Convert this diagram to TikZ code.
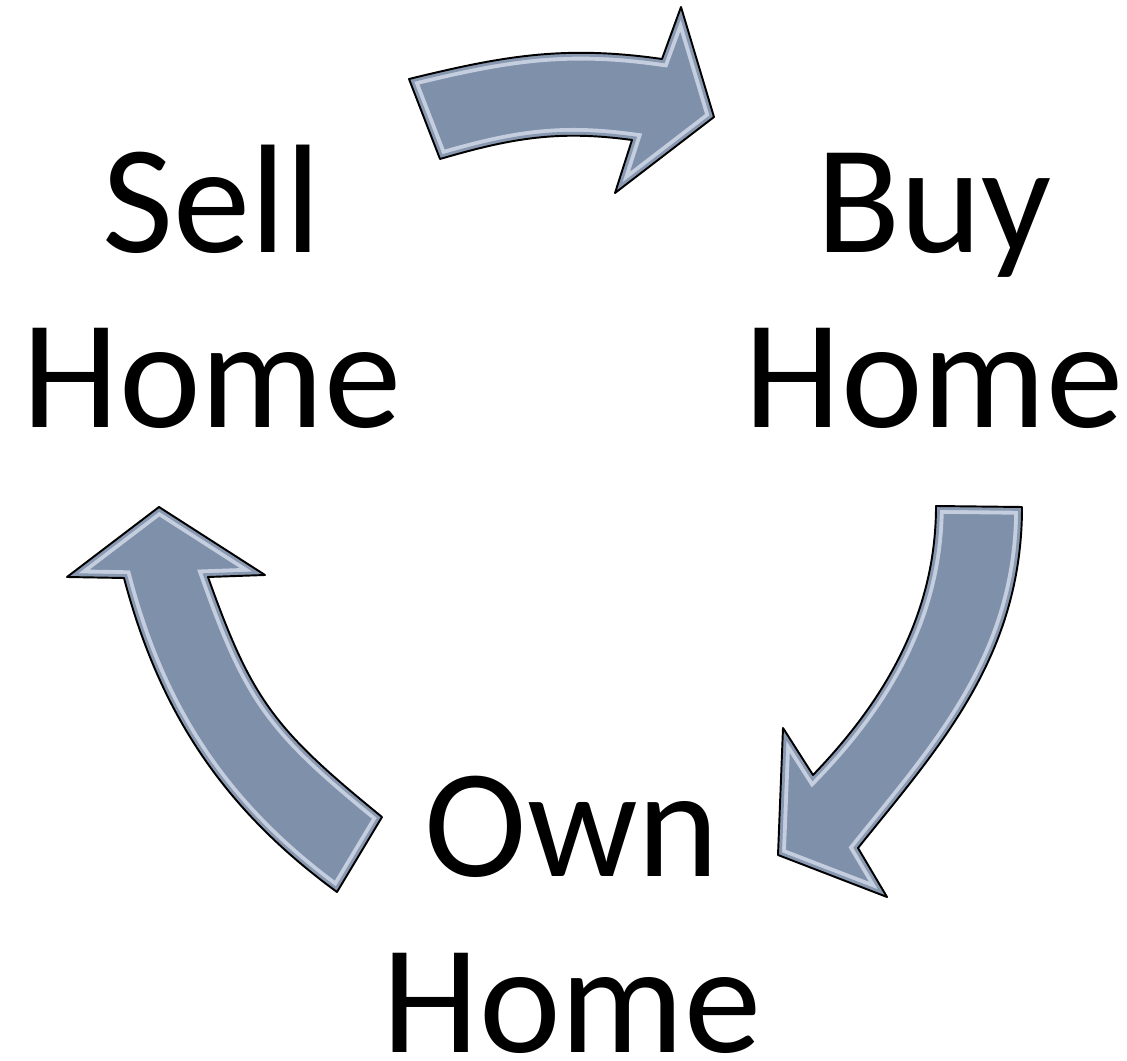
\documentclass[tikz,border=0pt]{standalone}
\usepackage{fontspec}
\setmainfont{Carlito}
\usepackage{tikz}
\usetikzlibrary{positioning}
\definecolor{arrowFill}{RGB}{127,144,171}
\definecolor{arrowGlow}{RGB}{196,206,222}
\definecolor{arrowRim}{RGB}{136,152,177}
\tikzstyle{cycleText} = [align=center, inner sep=0pt, font=\fontsize{44}{50}\selectfont, anchor=base]
\tikzstyle{arrowBody} = [fill=arrowFill]
\tikzstyle{arrowOutline} = [draw=black, line width=0.55pt, line join=round]
\newcommand{\bevelArrow}[1]{%
  \fill[arrowBody] #1;
  \begin{scope}
    \clip #1;
    \draw[draw=arrowGlow, line width=4.4pt] #1;
    \draw[draw=arrowRim, line width=2.2pt] #1;
  \end{scope}
  \draw[arrowOutline] #1;}

\begin{document}
\begin{tikzpicture}[x=0.01cm, y=-0.01cm]
						\useasboundingbox (0,0) rectangle (1127,1061);
						\node (sell) [cycleText] at (212,428) {Sell\\Home};
						\node (buy) [cycleText] at (934,428) {Buy\\Home};
						\node (own) [cycleText] at (572,1052) {Own\\Home};
						% sell -> buy
						\bevelArrow{(409,79) .. controls (503,56) and (564,45) .. (662,59) -- (681,7) -- (714,117) -- (615,193) -- (632,140) .. controls (558,130) and (512,138) .. (440,159) -- cycle}
						% buy -> own
						\bevelArrow{(936,506) -- (1022,507) .. controls (1022,657) and (939,747) .. (858,848) -- (887,897) -- (778,855) -- (783,728) -- (813,775) .. controls (882.5,703) and (936,616) .. (936,506) -- cycle}
						% own -> sell
						\bevelArrow{(337,892) -- (382,817) .. controls (273.4,728.7) and (251.7,699.5) .. (208,577) -- (265,575) -- (159,507) -- (67,577) -- (124,578) .. controls (159.6,713) and (224,809.4) .. (337,892) -- cycle}
					\end{tikzpicture}
\end{document}
